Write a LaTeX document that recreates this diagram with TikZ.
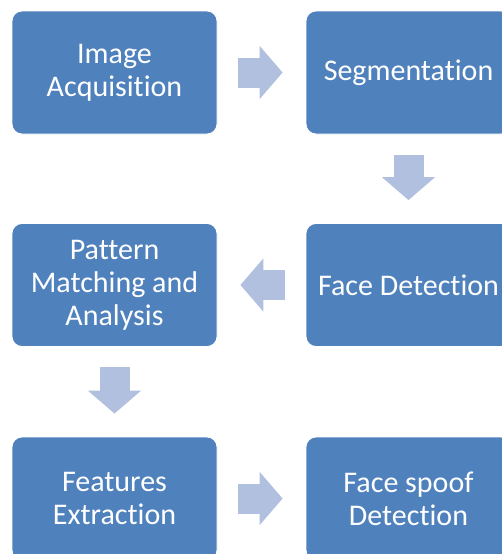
\documentclass[tikz,border=0pt]{standalone}
\usepackage{fontspec}
\setmainfont[Ligatures=NoCommon]{Carlito}
\usepackage{xcolor}
\usepackage{tikz}
\usetikzlibrary{arrows.meta,positioning}

\definecolor{stageblue}{RGB}{79,129,189}
\definecolor{flowblue}{RGB}{176,192,222}

\begin{document}
\begin{tikzpicture}[x=1pt,y=-1pt,
    stage/.style={rectangle, rounded corners=10pt, fill=stageblue, draw=white, line width=0.8pt,
        minimum width=205pt, minimum height=123pt, text=white, align=center,
        font=\fontsize{30}{33}\selectfont},
    flow/.style={draw=flowblue, line width=30pt, shorten <=20.5pt, shorten >=23pt,
        -{Triangle[length=23pt,width=52pt]}}]
    \useasboundingbox (0,0) rectangle (502,554);
    \clip (0,0) rectangle (502,554);

    % top row
    \node[stage] (acq) at (114.5,72.5) {Image\\Acquisition};
    \node[stage] (seg) at (408.5,72.5) {Segmentation};

    % middle row
    \node[stage] (pat) at (114.5,285) {Pattern\\Matching and\\Analysis};
    \node[stage] (face) at (408.5,285) {Face Detection};

    % bottom row
    \node[stage] (feat) at (114.5,498.5) {Features\\Extraction};
    \node[stage] (spoof) at (408.5,498.5) {Face spoof\\Detection};

    % Arrows
    \draw[flow] (acq.east) -- (seg.west);
    \draw[flow] (seg.south) -- (face.north);
    \draw[flow] (face.west) -- (pat.east);
    \draw[flow] (pat.south) -- (feat.north);
    \draw[flow] (feat.east) -- (spoof.west);
\end{tikzpicture}
\end{document}
